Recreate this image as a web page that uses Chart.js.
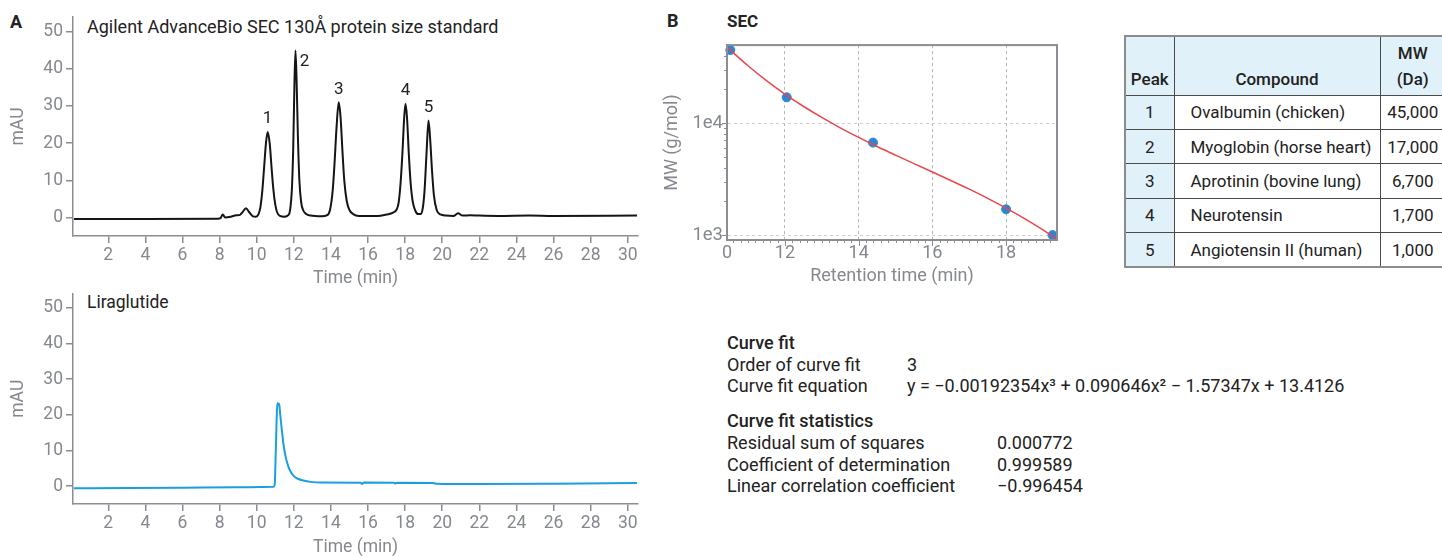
<!DOCTYPE html>
<html>
<head>
<meta charset="utf-8">
<script src="https://cdn.jsdelivr.net/npm/chart.js@4/dist/chart.umd.min.js"></script>
<style>
  body{margin:0;width:1442px;height:556px;overflow:hidden;background:#fff;position:relative;font-family:Roboto,sans-serif;color:#222;}
  .wrap{position:absolute;}
  .txt{position:absolute;white-space:nowrap;line-height:1;}
  .b{font-weight:700;}
  .m{font-weight:500;}
  .fit{font-size:18px;}
  #mwTable{position:absolute;left:1124px;top:35px;width:321px;border-collapse:collapse;table-layout:fixed;font-size:17px;color:#222;border:2px solid #8c8c8c;white-space:nowrap;}
  #mwTable th,#mwTable td{border:1px solid #4a4a4a;padding:0;}
  #mwTable thead tr{height:59px;}
  #mwTable tbody tr{height:34.4px;}
  #mwTable th{background:#e1f1fa;font-weight:500;vertical-align:bottom;line-height:26px;padding-bottom:3px;text-align:center;}
  #mwTable td.pk{background:#e1f1fa;text-align:center;}
  #mwTable td.cp{text-align:left;padding-left:16px;}
  #mwTable td.mw{text-align:center;}
</style>
</head>
<body>

<div class="txt b" style="left:10px;top:13px;font-size:18px">A</div>
<div class="txt" style="left:87px;top:18px;font-size:18px">Agilent AdvanceBio SEC 130Å protein size standard</div>
<div class="txt" style="left:87px;top:294px;font-size:17.5px">Liraglutide</div>
<div class="wrap" style="left:0;top:0;width:660px;height:290px"><canvas id="stdChart"></canvas></div>
<div class="wrap" style="left:0;top:280px;width:660px;height:280px"><canvas id="liraChart"></canvas></div>

<div class="txt b" style="left:667px;top:12px;font-size:18px">B</div>
<div class="txt b" style="left:727px;top:13px;font-size:17px">SEC</div>
<div class="wrap" style="left:660px;top:30px;width:420px;height:262px"><canvas id="secChart"></canvas></div>

<table id="mwTable">
  <colgroup><col style="width:49px"><col style="width:206px"><col style="width:66px"></colgroup>
  <thead><tr><th>Peak</th><th>Compound</th><th>MW<br>(Da)</th></tr></thead>
  <tbody id="mwBody"></tbody>
</table>

<div class="txt fit m" style="left:727px;top:334px">Curve fit</div>
<div class="txt fit" style="left:727px;top:356px">Order of curve fit</div>
<div class="txt fit" style="left:907px;top:356px">3</div>
<div class="txt fit" style="left:727px;top:377px">Curve fit equation</div>
<div class="txt fit" style="left:907px;top:377px">y = −0.00192354x³ + 0.090646x² − 1.57347x + 13.4126</div>
<div class="txt fit m" style="left:727px;top:412px">Curve fit statistics</div>
<div class="txt fit" style="left:727px;top:434px">Residual sum of squares</div>
<div class="txt fit" style="left:997px;top:434px">0.000772</div>
<div class="txt fit" style="left:727px;top:456px">Coefficient of determination</div>
<div class="txt fit" style="left:997px;top:456px">0.999589</div>
<div class="txt fit" style="left:727px;top:477px">Linear correlation coefficient</div>
<div class="txt fit" style="left:997px;top:477px">−0.996454</div>

<script>
// protein size standard trace (min, mAU)
var stdTime = [0.15, 4, 7.9, 8.05, 8.17, 8.3, 8.6, 8.9, 9.1, 9.25, 9.42, 9.6, 9.8, 9.95,
  10.1, 10.2, 10.3, 10.4, 10.5, 10.59, 10.7, 10.8, 10.9, 11.0, 11.1, 11.25,
  11.5, 11.7, 11.8, 11.9, 11.97, 12.03, 12.09, 12.15, 12.22, 12.3, 12.4, 12.5, 12.65, 12.9,
  13.5, 13.8, 13.95, 14.1, 14.2, 14.3, 14.42, 14.52, 14.62, 14.72, 14.85, 15.0, 15.2, 15.5,
  16.5, 17.0, 17.35, 17.55, 17.65, 17.75, 17.85, 17.95, 18.02, 18.1, 18.2, 18.3, 18.4, 18.55, 18.7,
  18.85, 18.95, 19.05, 19.15, 19.26, 19.35, 19.45, 19.55, 19.7, 19.9, 20.2,
  20.6, 20.85, 21.1, 21.5, 22, 23, 24.7, 26, 30.5];
var stdMAU = [-0.4, -0.4, -0.35, -0.2, 0.8, 0.0, 0.2, 0.6, 0.7, 1.5, 2.5, 1.4, 0.3, 0.2,
  0.9, 2.8, 7, 13.5, 20, 23, 20, 13.5, 7.5, 3.5, 1.4, 0.4,
  0.2, 0.6, 2, 8, 19, 35, 45, 37, 22, 10, 4, 2, 1, 0.5,
  0.3, 0.6, 2, 7.5, 15, 24, 31, 27, 18, 10, 4.5, 2, 0.9, 0.4,
  0.4, 0.8, 1.3, 2.2, 4, 9, 17, 27, 30.6, 27, 17, 9, 4.5, 1.8, 0.9,
  0.9, 2.5, 7.5, 17, 26.1, 21, 12.5, 6, 2, 0.8, 0.5,
  0.4, 1.1, 0.5, 0.6, 0.5, 0.4, 0.5, 0.4, 0.5];

// liraglutide trace (min, mAU)
var liraTime = [0.15, 3, 6, 9, 10.9, 10.97, 11.03, 11.09, 11.13, 11.17, 11.21, 11.27, 11.35, 11.45,
  11.57, 11.7, 11.8, 12.0, 12.25, 12.5, 12.9, 13.5, 15.6, 15.68, 15.76, 17.4, 17.47, 17.55,
  19.5, 19.65, 22, 26, 30.5];
var liraMAU = [-0.6, -0.55, -0.45, -0.3, -0.2, 0.5, 10, 21, 23.3, 22.8, 23.1, 20, 16, 11.5,
  8, 5.6, 4.3, 2.8, 2.0, 1.6, 1.2, 1.0, 0.95, 0.6, 1.0, 0.95, 0.75, 0.95,
  0.9, 0.7, 0.6, 0.7, 0.9];

// peaks of the standard
var peakNums = ['1', '2', '3', '4', '5'];
var peakTimes = [10.59, 12.09, 14.42, 18.02, 19.26];
var peakMAU = [23, 45, 31, 30.6, 26.1];
var compounds = ['Ovalbumin (chicken)', 'Myoglobin (horse heart)', 'Aprotinin (bovine lung)', 'Neurotensin', 'Angiotensin II (human)'];
var mwDa = [45000, 17000, 6700, 1700, 1000];

// calibration (SEC)
var secTime = [10.52, 12.05, 14.39, 18.0, 19.26];
var fitTime = [10.43, 11, 11.5, 12, 12.5, 13, 13.5, 14, 14.5, 15, 15.5, 16, 16.5, 17, 17.5, 18, 18.5, 19, 19.4];
var fitMW = [47840, 32540, 24000, 18200, 14150, 11240, 9085, 7455, 6185, 5176, 4350, 3662, 3075, 2570, 2130, 1743, 1405, 1113, 908];

// ticks
var timeTicks = [2, 4, 6, 8, 10, 12, 14, 16, 18, 20, 22, 24, 26, 28, 30];
var mauTicks = [0, 10, 20, 30, 40, 50];
var secTimeTicks = [10.43, 12, 14, 16, 18];
var secTimeLabels = ['0', '12', '14', '16', '18'];
var secMWTicks = [1000, 10000];
var secMWLabels = ['1e3', '1e4'];

var GRAY = '#85888e';
var AXIS = '#8a8d93';
Chart.defaults.font.family = 'Roboto, sans-serif';
Chart.defaults.color = GRAY;

// table
var body = document.getElementById('mwBody');
peakNums.forEach(function(n, i){
  var tr = document.createElement('tr');
  tr.innerHTML = '<td class="pk">' + n + '</td><td class="cp">' + compounds[i] + '</td><td class="mw">' +
    mwDa[i].toLocaleString('en-US') + '</td>';
  body.appendChild(tr);
});

function xy(xs, ys){
  return xs.map(function(x, i){ return {x: x, y: ys[i]}; });
}

var peakLabels = {
  id: 'peakLabels',
  afterDatasetsDraw: function(chart){
    var ctx = chart.ctx, x = chart.scales.x, y = chart.scales.y;
    ctx.save();
    ctx.font = '17px Roboto, sans-serif';
    ctx.fillStyle = '#222';
    ctx.textAlign = 'center';
    ctx.textBaseline = 'middle';
    peakNums.forEach(function(n, i){
      var px = x.getPixelForValue(peakTimes[i]);
      var py = y.getPixelForValue(peakMAU[i]) - 13;
      if (n === '2') { px += 9; py += 24; }
      ctx.fillText(n, px, py);
    });
    ctx.restore();
  }
};

function chromChart(id, xs, ys, color, padTop, xHeight, titlePad, plugins){
  return new Chart(document.getElementById(id), {
    type: 'line',
    data: {datasets: [{data: xy(xs, ys), borderColor: color, borderWidth: 2, pointRadius: 0, cubicInterpolationMode: 'monotone', fill: false}]},
    options: {
      responsive: true, maintainAspectRatio: false, animation: false,
      parsing: false,
      layout: {padding: {top: padTop, right: 22, left: 0, bottom: 0}},
      plugins: {legend: {display: false}, tooltip: {enabled: false}},
      scales: {
        x: {
          type: 'linear', min: 0.1, max: 30.55,
          afterBuildTicks: function(s){ s.ticks = timeTicks.map(function(v){ return {value: v}; }); },
          afterFit: function(s){ s.height = xHeight; },
          ticks: {font: {size: 17.5}, color: GRAY, padding: 2, maxRotation: 0, autoSkip: false},
          grid: {drawOnChartArea: false, tickLength: 7, color: AXIS, lineWidth: 1.5},
          border: {color: AXIS, width: 1.5},
          title: {display: true, text: 'Time (min)', color: GRAY, font: {size: 17.5}, padding: {top: 0, bottom: titlePad}}
        },
        y: {
          min: -5, max: 54,
          afterBuildTicks: function(s){ s.ticks = mauTicks.map(function(v){ return {value: v}; }); },
          afterFit: function(s){ s.width = 73; },
          ticks: {font: {size: 17.5}, color: GRAY, padding: 3},
          grid: {drawOnChartArea: false, tickLength: 7, color: AXIS, lineWidth: 1.5},
          border: {color: AXIS, width: 1.5},
          title: {display: true, text: 'mAU', color: GRAY, font: {size: 17.5}, padding: {top: 8, bottom: 0}}
        }
      }
    },
    plugins: plugins
  });
}

chromChart('stdChart', stdTime, stdMAU, '#151515', 17, 54, 1, [peakLabels]);
chromChart('liraChart', liraTime, liraMAU, '#1a9ee2', 8, 56, 1.5, []);

// frame and minor ticks of the calibration plot
var secFrame = {
  id: 'secFrame',
  afterDraw: function(chart){
    var ctx = chart.ctx, a = chart.chartArea, x = chart.scales.x, y = chart.scales.y;
    ctx.save();
    ctx.strokeStyle = AXIS;
    ctx.lineWidth = 2;
    ctx.strokeRect(a.left, a.top, a.right - a.left, a.bottom - a.top);
    ctx.lineWidth = 1;
    ctx.beginPath();
    for (var k = Math.ceil(x.min * 5); k <= Math.floor(x.max * 5); k++) {
      var px = Math.round(x.getPixelForValue(k / 5)) + 0.5;
      ctx.moveTo(px, a.bottom);
      ctx.lineTo(px, a.bottom + (k % 10 === 0 ? 6 : 3));
    }
    [1000, 10000].forEach(function(dec){
      for (var m = 1; m <= 9; m++) {
        var v = dec * m;
        if (v < y.min || v > y.max) continue;
        var py = Math.round(y.getPixelForValue(v)) + 0.5;
        ctx.moveTo(a.left, py);
        ctx.lineTo(a.left - (m === 1 ? 5 : 3), py);
      }
    });
    ctx.stroke();
    ctx.restore();
  }
};

new Chart(document.getElementById('secChart'), {
  type: 'scatter',
  data: {
    datasets: [
      {data: xy(fitTime, fitMW), showLine: true, borderColor: '#e8474c', borderWidth: 1.5, pointRadius: 0, cubicInterpolationMode: 'monotone', order: 0},
      {data: xy(secTime, mwDa), backgroundColor: '#2b87d2', borderColor: '#2b87d2', pointRadius: 4.5, clip: false, order: 1}
    ]
  },
  options: {
    responsive: true, maintainAspectRatio: false, animation: false,
    layout: {padding: {top: 11, right: 23, left: 0, bottom: 0}},
    plugins: {legend: {display: false}, tooltip: {enabled: false}},
    scales: {
      x: {
        type: 'linear', min: 10.43, max: 19.38,
        afterBuildTicks: function(s){ s.ticks = secTimeTicks.map(function(v){ return {value: v}; }); },
        afterFit: function(s){ s.height = 52; },
        ticks: {callback: function(v, i){ return secTimeLabels[i]; }, font: {size: 18}, color: GRAY, padding: 3, maxRotation: 0, autoSkip: false},
        grid: {drawTicks: false, color: function(c){ return c.index === 0 ? 'rgba(0,0,0,0)' : '#b5b5b5'; }, lineWidth: 1},
        border: {color: AXIS, width: 2, dash: [3, 3]},
        title: {display: true, text: 'Retention time (min)', color: GRAY, font: {size: 18}, padding: {top: 0, bottom: 4.5}}
      },
      y: {
        type: 'logarithmic', min: 904, max: 49770,
        afterBuildTicks: function(s){ s.ticks = secMWTicks.map(function(v){ return {value: v}; }); },
        afterFit: function(s){ s.width = 67; },
        ticks: {callback: function(v, i){ return secMWLabels[i]; }, font: {size: 18.5}, color: GRAY, padding: 4},
        grid: {drawTicks: false, color: '#cdcdcd', lineWidth: 1},
        border: {color: AXIS, width: 2, dash: [3, 3]},
        title: {display: true, text: 'MW (g/mol)', color: GRAY, font: {size: 18}, padding: {top: 1.5, bottom: 0}}
      }
    }
  },
  plugins: [secFrame]
});
</script>
</body>
</html>
